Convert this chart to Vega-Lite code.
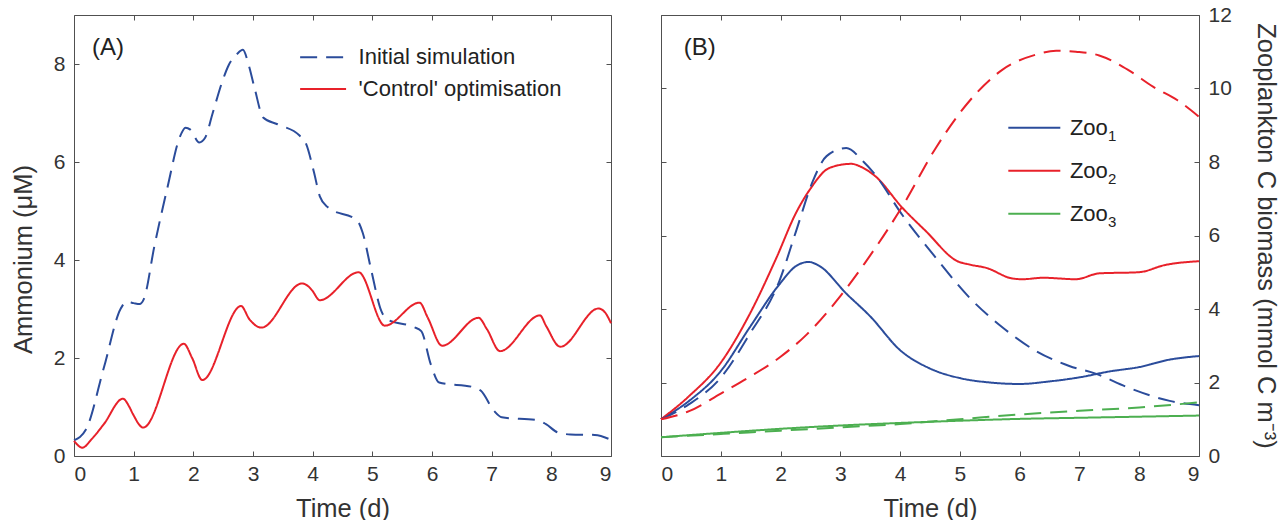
{
  "$schema": "https://vega.github.io/schema/vega-lite/v6.json",
  "background": "white",
  "padding": {"left": 11, "top": 4, "right": 2, "bottom": 0},
  "config": {
    "font": "Liberation Sans",
    "view": {"stroke": null},
    "axis": {
      "labelFontSize": 21, "titleFontSize": 25.5, "labelColor": "#333333", "titleColor": "#333333",
      "titleFontWeight": "normal", "domainColor": "#505050", "tickColor": "#505050", "tickSize": -5,
      "grid": false, "labelFont": "Liberation Sans", "titleFont": "Liberation Sans", "domainWidth": 1, "tickWidth": 1, "format": "d"
    },
    "text": {"font": "Liberation Sans"}
  },
  "datasets": {
    "ammonium": [
      {"series": "Initial simulation", "t": 0, "v": 0.32}, {"series": "Initial simulation", "t": 0.2, "v": 0.54},
      {"series": "Initial simulation", "t": 0.5, "v": 1.8}, {"series": "Initial simulation", "t": 0.78, "v": 3.0},
      {"series": "Initial simulation", "t": 0.88, "v": 3.15}, {"series": "Initial simulation", "t": 1.0, "v": 3.12},
      {"series": "Initial simulation", "t": 1.1, "v": 3.1}, {"series": "Initial simulation", "t": 1.17, "v": 3.2},
      {"series": "Initial simulation", "t": 1.35, "v": 4.3}, {"series": "Initial simulation", "t": 1.57, "v": 5.5},
      {"series": "Initial simulation", "t": 1.77, "v": 6.5}, {"series": "Initial simulation", "t": 1.87, "v": 6.7},
      {"series": "Initial simulation", "t": 1.95, "v": 6.66}, {"series": "Initial simulation", "t": 2.1, "v": 6.4},
      {"series": "Initial simulation", "t": 2.2, "v": 6.5}, {"series": "Initial simulation", "t": 2.32, "v": 6.98},
      {"series": "Initial simulation", "t": 2.49, "v": 7.66}, {"series": "Initial simulation", "t": 2.59, "v": 7.97},
      {"series": "Initial simulation", "t": 2.73, "v": 8.2}, {"series": "Initial simulation", "t": 2.83, "v": 8.29},
      {"series": "Initial simulation", "t": 2.93, "v": 7.97}, {"series": "Initial simulation", "t": 3.03, "v": 7.49},
      {"series": "Initial simulation", "t": 3.17, "v": 6.91}, {"series": "Initial simulation", "t": 3.41, "v": 6.77},
      {"series": "Initial simulation", "t": 3.78, "v": 6.54}, {"series": "Initial simulation", "t": 3.89, "v": 6.37},
      {"series": "Initial simulation", "t": 4.02, "v": 5.8}, {"series": "Initial simulation", "t": 4.12, "v": 5.3},
      {"series": "Initial simulation", "t": 4.25, "v": 5.08}, {"series": "Initial simulation", "t": 4.75, "v": 4.8},
      {"series": "Initial simulation", "t": 4.84, "v": 4.55}, {"series": "Initial simulation", "t": 4.98, "v": 3.8},
      {"series": "Initial simulation", "t": 5.15, "v": 2.96}, {"series": "Initial simulation", "t": 5.26, "v": 2.78},
      {"series": "Initial simulation", "t": 5.7, "v": 2.63}, {"series": "Initial simulation", "t": 5.82, "v": 2.55},
      {"series": "Initial simulation", "t": 5.98, "v": 1.87}, {"series": "Initial simulation", "t": 6.12, "v": 1.5},
      {"series": "Initial simulation", "t": 6.71, "v": 1.4}, {"series": "Initial simulation", "t": 6.82, "v": 1.33},
      {"series": "Initial simulation", "t": 7.04, "v": 0.92}, {"series": "Initial simulation", "t": 7.17, "v": 0.79},
      {"series": "Initial simulation", "t": 7.77, "v": 0.73}, {"series": "Initial simulation", "t": 7.91, "v": 0.65},
      {"series": "Initial simulation", "t": 8.11, "v": 0.48}, {"series": "Initial simulation", "t": 8.32, "v": 0.44},
      {"series": "Initial simulation", "t": 8.73, "v": 0.43}, {"series": "Initial simulation", "t": 9.0, "v": 0.33},
      {"series": "'Control' optimisation", "t": 0, "v": 0.31}, {"series": "'Control' optimisation", "t": 0.14, "v": 0.17},
      {"series": "'Control' optimisation", "t": 0.3, "v": 0.35}, {"series": "'Control' optimisation", "t": 0.5, "v": 0.65},
      {"series": "'Control' optimisation", "t": 0.82, "v": 1.17}, {"series": "'Control' optimisation", "t": 0.92, "v": 1.02},
      {"series": "'Control' optimisation", "t": 0.99, "v": 0.85}, {"series": "'Control' optimisation", "t": 1.16, "v": 0.58},
      {"series": "'Control' optimisation", "t": 1.84, "v": 2.29}, {"series": "'Control' optimisation", "t": 1.98, "v": 2.0},
      {"series": "'Control' optimisation", "t": 2.15, "v": 1.55}, {"series": "'Control' optimisation", "t": 2.8, "v": 3.06},
      {"series": "'Control' optimisation", "t": 2.94, "v": 2.79}, {"series": "'Control' optimisation", "t": 3.14, "v": 2.62},
      {"series": "'Control' optimisation", "t": 3.82, "v": 3.52}, {"series": "'Control' optimisation", "t": 3.92, "v": 3.47},
      {"series": "'Control' optimisation", "t": 3.99, "v": 3.38}, {"series": "'Control' optimisation", "t": 4.12, "v": 3.18},
      {"series": "'Control' optimisation", "t": 4.77, "v": 3.75}, {"series": "'Control' optimisation", "t": 5.21, "v": 2.66},
      {"series": "'Control' optimisation", "t": 5.79, "v": 3.13}, {"series": "'Control' optimisation", "t": 5.93, "v": 2.82},
      {"series": "'Control' optimisation", "t": 6.17, "v": 2.25}, {"series": "'Control' optimisation", "t": 6.78, "v": 2.82},
      {"series": "'Control' optimisation", "t": 6.92, "v": 2.59}, {"series": "'Control' optimisation", "t": 7.14, "v": 2.14},
      {"series": "'Control' optimisation", "t": 7.81, "v": 2.87}, {"series": "'Control' optimisation", "t": 7.91, "v": 2.66},
      {"series": "'Control' optimisation", "t": 8.15, "v": 2.23}, {"series": "'Control' optimisation", "t": 8.79, "v": 3.01},
      {"series": "'Control' optimisation", "t": 8.9, "v": 2.93}, {"series": "'Control' optimisation", "t": 9.0, "v": 2.71}
    ],
    "legendA": [
      {"series": "Initial simulation", "t1": 3.79, "t2": 4.56, "tt": 4.77, "v": 8.14},
      {"series": "'Control' optimisation", "t1": 3.79, "t2": 4.56, "tt": 4.77, "v": 7.49}
    ],
    "panelA": [{"label": "(A)", "t": 0.3, "v": 8.33}],
    "zoo": [
      {"sp": "Zoo1", "run": "control", "t": 0, "v": 1.0}, {"sp": "Zoo1", "run": "control", "t": 0.47, "v": 1.5},
      {"sp": "Zoo1", "run": "control", "t": 1.0, "v": 2.31}, {"sp": "Zoo1", "run": "control", "t": 1.48, "v": 3.49},
      {"sp": "Zoo1", "run": "control", "t": 1.98, "v": 4.67}, {"sp": "Zoo1", "run": "control", "t": 2.26, "v": 5.17},
      {"sp": "Zoo1", "run": "control", "t": 2.47, "v": 5.28}, {"sp": "Zoo1", "run": "control", "t": 2.65, "v": 5.17},
      {"sp": "Zoo1", "run": "control", "t": 3.1, "v": 4.42}, {"sp": "Zoo1", "run": "control", "t": 3.5, "v": 3.8},
      {"sp": "Zoo1", "run": "control", "t": 4.0, "v": 2.88}, {"sp": "Zoo1", "run": "control", "t": 4.5, "v": 2.38},
      {"sp": "Zoo1", "run": "control", "t": 5.0, "v": 2.12}, {"sp": "Zoo1", "run": "control", "t": 5.5, "v": 2.0},
      {"sp": "Zoo1", "run": "control", "t": 6.0, "v": 1.96}, {"sp": "Zoo1", "run": "control", "t": 6.5, "v": 2.03},
      {"sp": "Zoo1", "run": "control", "t": 7.0, "v": 2.14}, {"sp": "Zoo1", "run": "control", "t": 7.5, "v": 2.3},
      {"sp": "Zoo1", "run": "control", "t": 8.0, "v": 2.42}, {"sp": "Zoo1", "run": "control", "t": 8.5, "v": 2.62},
      {"sp": "Zoo1", "run": "control", "t": 9.0, "v": 2.72},
      {"sp": "Zoo2", "run": "control", "t": 0, "v": 1.0}, {"sp": "Zoo2", "run": "control", "t": 0.47, "v": 1.63},
      {"sp": "Zoo2", "run": "control", "t": 1.0, "v": 2.54}, {"sp": "Zoo2", "run": "control", "t": 1.48, "v": 3.85},
      {"sp": "Zoo2", "run": "control", "t": 1.93, "v": 5.39}, {"sp": "Zoo2", "run": "control", "t": 2.26, "v": 6.62},
      {"sp": "Zoo2", "run": "control", "t": 2.49, "v": 7.25}, {"sp": "Zoo2", "run": "control", "t": 2.82, "v": 7.84},
      {"sp": "Zoo2", "run": "control", "t": 3.18, "v": 7.95}, {"sp": "Zoo2", "run": "control", "t": 3.38, "v": 7.84},
      {"sp": "Zoo2", "run": "control", "t": 3.58, "v": 7.62}, {"sp": "Zoo2", "run": "control", "t": 4.04, "v": 6.75},
      {"sp": "Zoo2", "run": "control", "t": 4.43, "v": 6.12}, {"sp": "Zoo2", "run": "control", "t": 4.96, "v": 5.3},
      {"sp": "Zoo2", "run": "control", "t": 5.16, "v": 5.21}, {"sp": "Zoo2", "run": "control", "t": 5.44, "v": 5.12},
      {"sp": "Zoo2", "run": "control", "t": 5.88, "v": 4.83}, {"sp": "Zoo2", "run": "control", "t": 6.05, "v": 4.81},
      {"sp": "Zoo2", "run": "control", "t": 6.39, "v": 4.85}, {"sp": "Zoo2", "run": "control", "t": 6.94, "v": 4.81},
      {"sp": "Zoo2", "run": "control", "t": 7.33, "v": 4.97}, {"sp": "Zoo2", "run": "control", "t": 7.99, "v": 5.0},
      {"sp": "Zoo2", "run": "control", "t": 8.44, "v": 5.2}, {"sp": "Zoo2", "run": "control", "t": 9.0, "v": 5.3},
      {"sp": "Zoo3", "run": "control", "t": 0, "v": 0.51}, {"sp": "Zoo3", "run": "control", "t": 1, "v": 0.63},
      {"sp": "Zoo3", "run": "control", "t": 2, "v": 0.74}, {"sp": "Zoo3", "run": "control", "t": 3, "v": 0.83},
      {"sp": "Zoo3", "run": "control", "t": 4, "v": 0.9}, {"sp": "Zoo3", "run": "control", "t": 5, "v": 0.96},
      {"sp": "Zoo3", "run": "control", "t": 6, "v": 1.01}, {"sp": "Zoo3", "run": "control", "t": 7, "v": 1.04},
      {"sp": "Zoo3", "run": "control", "t": 8, "v": 1.07}, {"sp": "Zoo3", "run": "control", "t": 9, "v": 1.1},
      {"sp": "Zoo1", "run": "initial", "t": 0, "v": 1.0}, {"sp": "Zoo1", "run": "initial", "t": 0.47, "v": 1.41},
      {"sp": "Zoo1", "run": "initial", "t": 1.0, "v": 2.13}, {"sp": "Zoo1", "run": "initial", "t": 1.48, "v": 3.31},
      {"sp": "Zoo1", "run": "initial", "t": 1.98, "v": 4.76}, {"sp": "Zoo1", "run": "initial", "t": 2.26, "v": 6.12},
      {"sp": "Zoo1", "run": "initial", "t": 2.54, "v": 7.48}, {"sp": "Zoo1", "run": "initial", "t": 2.77, "v": 8.16},
      {"sp": "Zoo1", "run": "initial", "t": 3.1, "v": 8.38}, {"sp": "Zoo1", "run": "initial", "t": 3.38, "v": 8.02},
      {"sp": "Zoo1", "run": "initial", "t": 3.58, "v": 7.66}, {"sp": "Zoo1", "run": "initial", "t": 4.04, "v": 6.55},
      {"sp": "Zoo1", "run": "initial", "t": 4.6, "v": 5.39}, {"sp": "Zoo1", "run": "initial", "t": 5.16, "v": 4.31},
      {"sp": "Zoo1", "run": "initial", "t": 5.72, "v": 3.49}, {"sp": "Zoo1", "run": "initial", "t": 6.27, "v": 2.86},
      {"sp": "Zoo1", "run": "initial", "t": 6.83, "v": 2.45}, {"sp": "Zoo1", "run": "initial", "t": 7.27, "v": 2.24},
      {"sp": "Zoo1", "run": "initial", "t": 7.82, "v": 1.86}, {"sp": "Zoo1", "run": "initial", "t": 8.51, "v": 1.5},
      {"sp": "Zoo1", "run": "initial", "t": 9.0, "v": 1.38},
      {"sp": "Zoo2", "run": "initial", "t": 0, "v": 1.0}, {"sp": "Zoo2", "run": "initial", "t": 0.47, "v": 1.22},
      {"sp": "Zoo2", "run": "initial", "t": 1.0, "v": 1.7}, {"sp": "Zoo2", "run": "initial", "t": 1.48, "v": 2.15},
      {"sp": "Zoo2", "run": "initial", "t": 2.0, "v": 2.7}, {"sp": "Zoo2", "run": "initial", "t": 2.44, "v": 3.31},
      {"sp": "Zoo2", "run": "initial", "t": 3.0, "v": 4.35}, {"sp": "Zoo2", "run": "initial", "t": 3.41, "v": 5.25},
      {"sp": "Zoo2", "run": "initial", "t": 4.04, "v": 6.8}, {"sp": "Zoo2", "run": "initial", "t": 4.6, "v": 8.39},
      {"sp": "Zoo2", "run": "initial", "t": 5.16, "v": 9.66}, {"sp": "Zoo2", "run": "initial", "t": 5.72, "v": 10.52},
      {"sp": "Zoo2", "run": "initial", "t": 6.27, "v": 10.92}, {"sp": "Zoo2", "run": "initial", "t": 6.61, "v": 11.03},
      {"sp": "Zoo2", "run": "initial", "t": 6.94, "v": 11.0}, {"sp": "Zoo2", "run": "initial", "t": 7.33, "v": 10.9},
      {"sp": "Zoo2", "run": "initial", "t": 7.82, "v": 10.5}, {"sp": "Zoo2", "run": "initial", "t": 8.23, "v": 10.05},
      {"sp": "Zoo2", "run": "initial", "t": 8.64, "v": 9.68}, {"sp": "Zoo2", "run": "initial", "t": 9.0, "v": 9.23},
      {"sp": "Zoo3", "run": "initial", "t": 0, "v": 0.51}, {"sp": "Zoo3", "run": "initial", "t": 1, "v": 0.6},
      {"sp": "Zoo3", "run": "initial", "t": 2, "v": 0.69}, {"sp": "Zoo3", "run": "initial", "t": 3, "v": 0.78},
      {"sp": "Zoo3", "run": "initial", "t": 4, "v": 0.87}, {"sp": "Zoo3", "run": "initial", "t": 5, "v": 1.0},
      {"sp": "Zoo3", "run": "initial", "t": 6, "v": 1.13}, {"sp": "Zoo3", "run": "initial", "t": 7, "v": 1.23},
      {"sp": "Zoo3", "run": "initial", "t": 8, "v": 1.32}, {"sp": "Zoo3", "run": "initial", "t": 9, "v": 1.46}
    ],
    "legendB": [
      {"sp": "Zoo1", "base": "Zoo", "sub": "1", "t1": 5.81, "t2": 6.68, "tt": 6.84, "v": 8.93},
      {"sp": "Zoo2", "base": "Zoo", "sub": "2", "t1": 5.81, "t2": 6.68, "tt": 6.84, "v": 7.76},
      {"sp": "Zoo3", "base": "Zoo", "sub": "3", "t1": 5.81, "t2": 6.68, "tt": 6.84, "v": 6.59}
    ],
    "panelB": [{"label": "(B)", "t": 0.38, "v": 11.1}]
  },
  "spacing": 50,
  "bounds": "flush",
  "resolve": {"scale": {"color": "independent", "strokeDash": "independent"}},
  "hconcat": [
    {
      "width": 537,
      "height": 441,
      "layer": [
        {
          "layer": [
            {
              "data": {"name": "ammonium"},
              "mark": {"type": "line", "strokeWidth": 2, "interpolate": "monotone"},
              "encoding": {
                "x": {"field": "t", "type": "quantitative", "scale": {"domain": [0, 9], "nice": false},
                  "axis": {"orient": "bottom", "title": "Time (d)", "values": [0, 1, 2, 3, 4, 5, 6, 7, 8, 9], "labelPadding": 12, "titlePadding": 12}},
                "y": {"field": "v", "type": "quantitative", "scale": {"domain": [0, 9], "nice": false},
                  "axis": {"orient": "left", "title": "Ammonium (μM)", "values": [0, 2, 4, 6, 8], "labelPadding": 14, "titlePadding": 17, "titleY": 244}},
                "color": {"field": "series", "type": "nominal", "legend": null,
                  "scale": {"domain": ["Initial simulation", "'Control' optimisation"], "range": ["#2B4C9B", "#E8212A"]}},
                "strokeDash": {"field": "series", "type": "nominal", "legend": null,
                  "scale": {"domain": ["Initial simulation", "'Control' optimisation"], "range": [[17, 9], [1, 0]]}}
              }
            },
            {
              "data": {"name": "legendA"},
              "mark": {"type": "rule", "strokeWidth": 2},
              "encoding": {
                "x": {"field": "t1", "type": "quantitative"},
                "x2": {"field": "t2"},
                "y": {"field": "v", "type": "quantitative"},
                "color": {"field": "series", "type": "nominal", "legend": null},
                "strokeDash": {"field": "series", "type": "nominal", "legend": null}
              }
            },
            {
              "data": {"name": "legendA"},
              "mark": {"type": "text", "align": "left", "baseline": "middle", "fontSize": 22, "color": "#222222"},
              "encoding": {
                "x": {"field": "tt", "type": "quantitative"},
                "y": {"field": "v", "type": "quantitative"},
                "text": {"field": "series"}
              }
            }
          ]
        },
        {
          "data": {"name": "panelA"},
          "mark": {"type": "text", "align": "left", "baseline": "middle", "fontSize": 24, "color": "#222222"},
          "encoding": {
            "x": {"field": "t", "type": "quantitative", "scale": {"domain": [0, 9], "nice": false},
              "axis": {"orient": "top", "labels": false, "title": null, "values": [0, 1, 2, 3, 4, 5, 6, 7, 8, 9]}},
            "y": {"field": "v", "type": "quantitative", "scale": {"domain": [0, 9], "nice": false},
              "axis": {"orient": "right", "labels": false, "title": null, "values": [0, 2, 4, 6, 8]}},
            "text": {"field": "label"}
          }
        }
      ],
      "resolve": {"scale": {"x": "independent", "y": "independent"}}
    },
    {
      "width": 538,
      "height": 441,
      "layer": [
        {
          "layer": [
            {
              "data": {"name": "zoo"},
              "mark": {"type": "line", "strokeWidth": 2, "interpolate": "monotone"},
              "encoding": {
                "x": {"field": "t", "type": "quantitative", "scale": {"domain": [0, 9], "nice": false},
                  "axis": {"orient": "bottom", "title": "Time (d)", "values": [0, 1, 2, 3, 4, 5, 6, 7, 8, 9], "labelPadding": 12, "titlePadding": 12}},
                "y": {"field": "v", "type": "quantitative", "scale": {"domain": [0, 12], "nice": false},
                  "axis": {"orient": "right", "title": "Zooplankton C biomass (mmol C m⁻³)", "values": [0, 2, 4, 6, 8, 10, 12], "labelPadding": 14, "titlePadding": 21}},
                "color": {"field": "sp", "type": "nominal", "legend": null,
                  "scale": {"domain": ["Zoo1", "Zoo2", "Zoo3"], "range": ["#2B4C9B", "#E8212A", "#4CAF50"]}},
                "strokeDash": {"field": "run", "type": "nominal", "legend": null,
                  "scale": {"domain": ["initial", "control"], "range": [[17, 9], [1, 0]]}}
              }
            },
            {
              "data": {"name": "legendB"},
              "mark": {"type": "rule", "strokeWidth": 2},
              "encoding": {
                "x": {"field": "t1", "type": "quantitative"},
                "x2": {"field": "t2"},
                "y": {"field": "v", "type": "quantitative"},
                "color": {"field": "sp", "type": "nominal", "legend": null}
              }
            },
            {
              "data": {"name": "legendB"},
              "mark": {"type": "text", "align": "left", "baseline": "middle", "fontSize": 22, "color": "#222222"},
              "encoding": {
                "x": {"field": "tt", "type": "quantitative"},
                "y": {"field": "v", "type": "quantitative"},
                "text": {"field": "base"}
              }
            },
            {
              "data": {"name": "legendB"},
              "mark": {"type": "text", "align": "left", "baseline": "middle", "fontSize": 15, "color": "#222222", "dx": 38, "dy": 8},
              "encoding": {
                "x": {"field": "tt", "type": "quantitative"},
                "y": {"field": "v", "type": "quantitative"},
                "text": {"field": "sub"}
              }
            }
          ]
        },
        {
          "data": {"name": "panelB"},
          "mark": {"type": "text", "align": "left", "baseline": "middle", "fontSize": 24, "color": "#222222"},
          "encoding": {
            "x": {"field": "t", "type": "quantitative", "scale": {"domain": [0, 9], "nice": false},
              "axis": {"orient": "top", "labels": false, "title": null, "values": [0, 1, 2, 3, 4, 5, 6, 7, 8, 9]}},
            "y": {"field": "v", "type": "quantitative", "scale": {"domain": [0, 12], "nice": false},
              "axis": {"orient": "left", "labels": false, "title": null, "values": [0, 2, 4, 6, 8, 10, 12]}},
            "text": {"field": "label"}
          }
        }
      ],
      "resolve": {"scale": {"x": "independent", "y": "independent"}}
    }
  ]
}
